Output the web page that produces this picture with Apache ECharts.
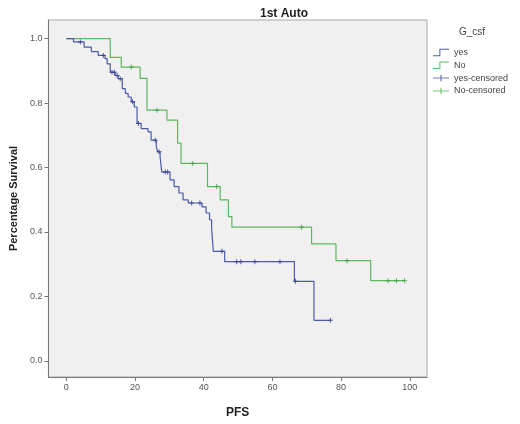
<!DOCTYPE html>
<html>
<head>
<meta charset="utf-8">
<script src="https://cdn.jsdelivr.net/npm/echarts@6/dist/echarts.min.js"></script>
<style>html,body{margin:0;padding:0;background:#fff;}#c{width:520px;height:424px;}</style>
</head>
<body>
<div id="c"></div>
<script>
// Kaplan-Meier step data
const yesTime = [0, 2.1, 5.2, 7.3, 9.3, 11.3, 11.9, 12.8, 14.2, 15.1, 16.3, 17.2, 18.0, 18.9, 19.8, 20.6, 21.8, 23.8, 24.7, 26.2, 26.6, 27.3, 27.8, 30.2, 31.4, 32.8, 34.0, 35.5, 39.5, 40.7, 41.7, 42.3, 42.8, 46.1, 66.4, 72.1];
const yesSurv = [1.0, 0.99, 0.974, 0.960, 0.948, 0.938, 0.922, 0.896, 0.886, 0.876, 0.845, 0.830, 0.819, 0.804, 0.788, 0.737, 0.721, 0.711, 0.685, 0.665, 0.649, 0.634, 0.586, 0.562, 0.541, 0.521, 0.500, 0.490, 0.478, 0.459, 0.438, 0.412, 0.340, 0.308, 0.247, 0.126];
const yesEnd = 76.9;
const yesCensor = [4.1, 10.8, 13.3, 14.0, 14.8, 15.7, 19.3, 21.0, 25.9, 27.0, 28.8, 29.5, 36.5, 38.9, 45.3, 49.6, 50.8, 54.9, 62.2, 66.7, 76.9];

const noTime = [0, 12.8, 16.0, 21.5, 23.5, 29.3, 32.4, 33.4, 41.1, 44.8, 47.2, 48.2, 71.4, 78.5, 88.6];
const noSurv = [1.0, 0.942, 0.912, 0.877, 0.778, 0.747, 0.676, 0.613, 0.541, 0.500, 0.448, 0.415, 0.363, 0.311, 0.249];
const noEnd = 98.5;
const noCensor = [18.9, 26.4, 36.8, 43.8, 68.5, 81.7, 93.7, 96.1, 98.5];

const xTicks = [0, 20, 40, 60, 80, 100];
const yTicks = [0, 0.2, 0.4, 0.6, 0.8, 1.0];

function stepData(times, surv, end) {
  const d = times.map((t, i) => [t, surv[i]]);
  d.push([end, surv[surv.length - 1]]);
  return d;
}
function survAt(times, surv, t) {
  let s = surv[0];
  for (let i = 0; i < times.length; i++) { if (times[i] <= t) s = surv[i]; }
  return s;
}
function censorData(times, surv, cens) {
  return cens.map(t => [t, survAt(times, surv, t)]);
}

const BLUE = '#4c5aa8', GREEN = '#5cb85c';
const BLUE_D = '#2f3d8c', GREEN_D = '#3f9a3f';
const plus = 'path://M4,0H6V4H10V6H6V10H4V6H0V4H4Z';
const stepIcon = 'path://M0,9H8V1H20V2.2H9.2V10.2H0Z';
const censIcon = 'path://M0,4.4H9.2V1H10.8V4.4H20V5.6H10.8V9H9.2V5.6H0Z';
const FONT = 'Liberation Sans, Arial, sans-serif';

const chart = echarts.init(document.getElementById('c'));
chart.setOption({
  animation: false,
  backgroundColor: '#fff',
  title: {
    text: '1st Auto', left: 279, top: 3, textAlign: 'center',
    textStyle: { fontSize: 12, fontWeight: 'bold', color: '#222', fontFamily: FONT }
  },
  graphic: [{
    type: 'text', left: 459, top: 27,
    style: { text: 'G_csf', fontSize: 10, fill: '#444', fontFamily: FONT }
  }],
  legend: {
    orient: 'vertical', left: 433, top: 48, padding: 0,
    itemWidth: 16, itemHeight: 10, itemGap: 3.8,
    textStyle: { fontSize: 9, color: '#444', fontFamily: FONT },
    data: [
      { name: 'yes', icon: stepIcon, itemStyle: { color: BLUE, borderWidth: 0 } },
      { name: 'No', icon: stepIcon, itemStyle: { color: GREEN, borderWidth: 0 } },
      { name: 'yes-censored', icon: censIcon, itemStyle: { color: BLUE, borderWidth: 0 } },
      { name: 'No-censored', icon: censIcon, itemStyle: { color: GREEN, borderWidth: 0 } }
    ]
  },
  grid: {
    left: 48, right: 93, top: 20, bottom: 46, show: true,
    backgroundColor: '#f0f0f0', borderColor: '#a8a8a8', borderWidth: 1
  },
  xAxis: {
    type: 'value', min: -5.2, max: 105,
    name: 'PFS', nameLocation: 'middle', nameGap: 30,
    nameTextStyle: { fontSize: 12, fontWeight: 'bold', color: '#222', fontFamily: FONT },
    axisLine: { show: true, onZero: false, lineStyle: { color: '#777', width: 1 } },
    axisTick: { show: true, length: 4, customValues: xTicks, lineStyle: { color: '#777' } },
    axisLabel: { customValues: xTicks, fontSize: 9, color: '#555', margin: 6, fontFamily: FONT },
    splitLine: { show: false }
  },
  yAxis: {
    type: 'value', min: -0.05, max: 1.058,
    name: 'Percentage Survival', nameLocation: 'middle', nameGap: 24,
    nameTextStyle: { fontSize: 11, fontWeight: 'bold', color: '#222', fontFamily: FONT },
    axisLine: { show: true, onZero: false, lineStyle: { color: '#777', width: 1 } },
    axisTick: { show: true, length: 4, customValues: yTicks, lineStyle: { color: '#777' } },
    axisLabel: { customValues: yTicks, fontSize: 9, color: '#555', margin: 6, fontFamily: FONT,
      formatter: v => v.toFixed(1) },
    splitLine: { show: false }
  },
  series: [
    { name: 'yes', type: 'line', step: 'end', showSymbol: false, symbol: 'none',
      data: stepData(yesTime, yesSurv, yesEnd),
      itemStyle: { color: BLUE }, lineStyle: { color: BLUE, width: 1.2 }, z: 3 },
    { name: 'No', type: 'line', step: 'end', showSymbol: false, symbol: 'none',
      data: stepData(noTime, noSurv, noEnd),
      itemStyle: { color: GREEN }, lineStyle: { color: GREEN, width: 1.2 }, z: 2 },
    { name: 'yes-censored', type: 'scatter', symbol: plus, symbolSize: 5,
      data: censorData(yesTime, yesSurv, yesCensor),
      itemStyle: { color: BLUE_D }, z: 5 },
    { name: 'No-censored', type: 'scatter', symbol: plus, symbolSize: 5,
      data: censorData(noTime, noSurv, noCensor),
      itemStyle: { color: GREEN_D }, z: 4 }
  ]
});
</script>
</body>
</html>
